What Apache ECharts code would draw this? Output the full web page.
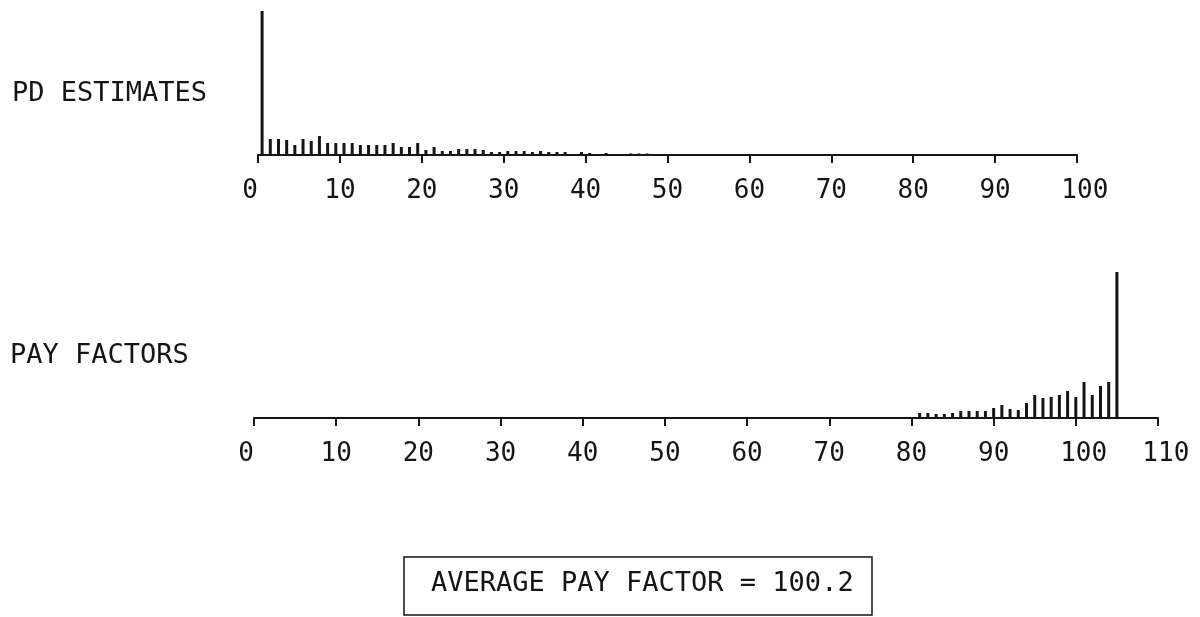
<!DOCTYPE html>
<html>
<head>
<meta charset="utf-8">
<script src="https://cdn.jsdelivr.net/npm/echarts@6/dist/echarts.min.js"></script>
<style>
html,body{margin:0;padding:0;background:#fff;}
#chart{width:1200px;height:617px;}
</style>
</head>
<body>
<div id="chart"></div>
<script>
// PD estimates histogram (bin centres, relative frequency as bar height)
const pdBins = [0.5,1.5,2.5,3.5,4.5,5.5,6.5,7.5,8.5,9.5,
  10.5,11.5,12.5,13.5,14.5,15.5,16.5,17.5,18.5,19.5,
  20.5,21.5,22.5,23.5,24.5,25.5,26.5,27.5,28.5,29.5,
  30.5,31.5,32.5,33.5,34.5,35.5,36.5,37.5,38.5,39.5,
  40.5,41.5,42.5,43.5,44.5,45.5,46.5,47.5];
const pdCounts = [144,16,16,15,10,16,14,19,12,12,
  12,12,10,10,10,10,12,8,8,12,
  5,8,4,4,6,6,6,5,3,3,
  4,4,4,3,4,3,3,3,0,3,
  2,0,2,0,0,1.5,1.5,1.5];

// Pay factors histogram
const payBins = [81,82,83,84,85,86,87,88,89,90,91,92,93,94,95,96,97,98,99,100,101,102,103,104,105];
const payCounts = [5,5,4,4,5,7,7,7,7,10,13,9,8,15,23,20,21,23,27,21,36,23,32,36,146];

const pdTicks = {min:0, max:100, interval:10};
const payTicks = {min:0, max:110, interval:10};

const labels = {pd:'PD ESTIMATES', pay:'PAY FACTORS', avg:'AVERAGE PAY FACTOR = 100.2'};

const FONT = '"DejaVu Sans Mono", "Liberation Mono", monospace';
const INK = '#151515';

function tickFmt(v){
  const s = String(v);
  if (s.length === 1) return s + ' ';
  if (s.length === 3) return ' ' + s;
  return s;
}

function xAxisCfg(gridIndex, t){
  return {
    type:'value', gridIndex, min:t.min, max:t.max, interval:t.interval,
    splitLine:{show:false},
    axisLine:{show:true, lineStyle:{color:INK, width:2}},
    axisTick:{show:true, length:8, lineStyle:{color:INK, width:2}},
    axisLabel:{show:true, formatter:tickFmt, margin:23, color:INK,
      fontFamily:FONT, fontSize:26}
  };
}
function yAxisCfg(gridIndex){
  return {type:'value', gridIndex, min:0, max:150, show:false,
    splitLine:{show:false}};
}

const chart = echarts.init(document.getElementById('chart'), null, {renderer:'canvas'});
chart.setOption({
  backgroundColor:'#ffffff',
  animation:false,
  grid:[
    {left:258, width:819, top:5, height:150},
    {left:254, width:904, top:268, height:150}
  ],
  xAxis:[xAxisCfg(0, pdTicks), xAxisCfg(1, payTicks)],
  yAxis:[yAxisCfg(0), yAxisCfg(1)],
  series:[
    {type:'bar', xAxisIndex:0, yAxisIndex:0, barWidth:3,
      itemStyle:{color:INK},
      data: pdBins.map((x,i)=>[x, pdCounts[i]])},
    {type:'bar', xAxisIndex:1, yAxisIndex:1, barWidth:3,
      itemStyle:{color:INK},
      data: payBins.map((x,i)=>[x, payCounts[i]])}
  ],
  graphic:[
    {type:'text', left:12, top:80, style:{text:labels.pd, fill:INK,
      font:'27px ' + FONT}},
    {type:'text', left:10, top:342, style:{text:labels.pay, fill:INK,
      font:'27px ' + FONT}},
    {type:'rect', shape:{x:404, y:557, width:468, height:58},
      style:{fill:'none', stroke:INK, lineWidth:1.5}},
    {type:'text', left:431, top:570, style:{text:labels.avg, fill:INK,
      font:'27px ' + FONT}}
  ]
});
</script>
</body>
</html>
